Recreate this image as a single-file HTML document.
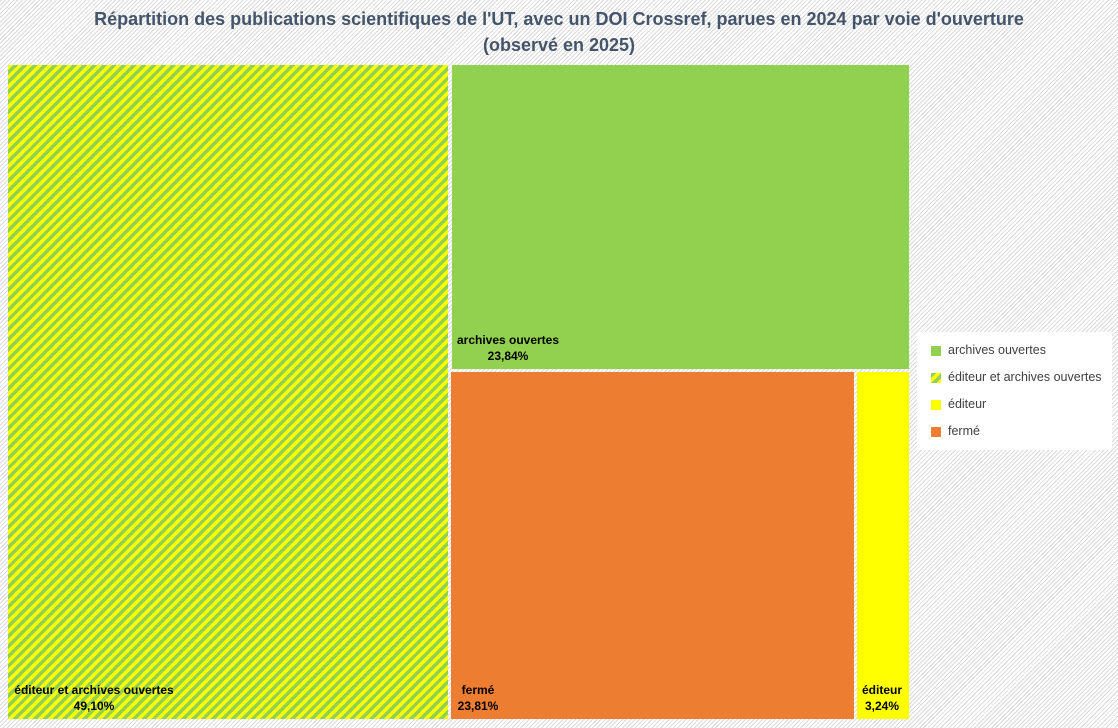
<!DOCTYPE html>
<html><head><meta charset="utf-8"><style>
body{margin:0;width:1118px;height:728px;overflow:hidden;font-family:"Liberation Sans",sans-serif;
background:repeating-linear-gradient(-45deg,#fff 0 2px,#d9d9d9 2px 3px);position:relative}
.t{position:absolute;left:0;width:1118px;top:6px;text-align:center;font-weight:bold;font-size:18px;color:#44546a;line-height:26px}
.r{position:absolute}
.h{background:repeating-linear-gradient(-45deg,#ffff00 0 3.5px,#92d050 3.5px 7px)}
.l{position:absolute;font-size:12px;font-weight:bold;color:#000;text-align:center;line-height:16px}
.lg{position:absolute;left:917px;top:332px;width:195px;height:118px;background:#fff}
.li{position:absolute;left:14px;font-size:12.5px;color:#404040}
.li i{position:absolute;left:0;top:3px;width:10px;height:10px}
.li span{position:absolute;left:17px;white-space:nowrap}
</style></head><body>
<div class="t">Répartition des publications scientifiques de l'UT, avec un DOI Crossref, parues en 2024 par voie d'ouverture<br>(observé en 2025)</div>
<div class="r h" style="left:8px;top:65px;width:440px;height:654px"></div>
<div class="r" style="left:452px;top:65px;width:457px;height:304px;background:#92d050"></div>
<div class="r" style="left:451px;top:372px;width:403px;height:347px;background:#ed7d31"></div>
<div class="r" style="left:857px;top:372px;width:52px;height:347px;background:#ffff00"></div>
<div class="l" style="left:12px;top:682px;width:164px">éditeur et archives ouvertes<br>49,10%</div>
<div class="l" style="left:455px;top:332px;width:106px">archives ouvertes<br>23,84%</div>
<div class="l" style="left:455px;top:682px;width:46px">fermé<br>23,81%</div>
<div class="l" style="left:859px;top:682px;width:46px">éditeur<br>3,24%</div>
<div class="lg">
<div class="li" style="top:11px"><i style="background:#92d050"></i><span>archives ouvertes</span></div>
<div class="li" style="top:38px"><i class="h"></i><span>éditeur et archives ouvertes</span></div>
<div class="li" style="top:65px"><i style="background:#ffff00"></i><span>éditeur</span></div>
<div class="li" style="top:92px"><i style="background:#ed7d31"></i><span>fermé</span></div>
</div>
</body></html>
